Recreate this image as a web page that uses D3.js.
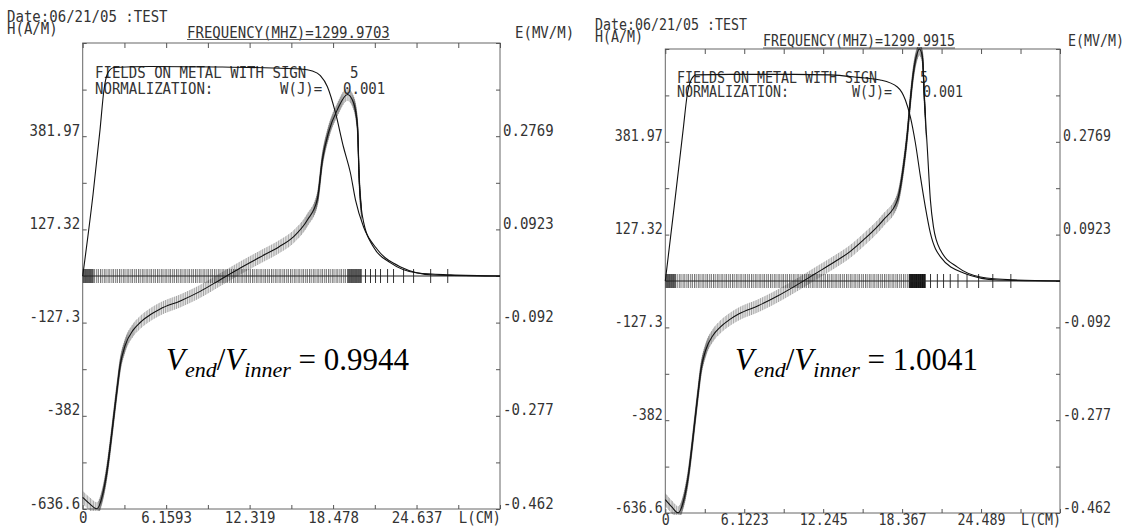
<!DOCTYPE html>
<html>
<head>
<meta charset="utf-8">
<script src="https://cdn.jsdelivr.net/npm/d3@7"></script>
<style>
  body { margin: 0; background: #fff; }
  svg { display: block; }
</style>
</head>
<body>
<svg id="chart" width="1131" height="529"></svg>
<script>
// ---- data ----
var hMax = 636.6;        // A/m, left axis extent
var eMax = 0.4615;       // MV/m, right axis extent
var hStep = 127.32;
var eStep = 0.0923;

var hLabels = ["381.97", "127.32", "-127.3", "-382", "-636.6"];
var eLabels = ["0.2769", "0.0923", "-0.092", "-0.277", "-0.462"];

var xLabels1 = ["0", "6.1593", "12.319", "18.478", "24.637"];
var xLabels2 = ["0", "6.1223", "12.245", "18.367", "24.489"];

// left plot: H with sign (A/m) and E (MV/m) along the metal, L in cm
var hX1 = [0, 0.5, 1.05, 1.45, 1.8, 2.05, 2.3, 2.55, 2.76, 3.13, 3.72, 4.24, 4.98, 5.72, 7.2, 8.67, 10.15, 11.63, 13.11, 14.5, 15.55, 16.58, 17.32, 17.69, 18.14, 18.8, 19.54, 19.98, 20.28, 20.4, 20.65, 21.46, 22.72, 24.72, 27.16, 30.8];
var hY1 = [-605, -622, -636, -600, -531, -460, -382, -305, -245, -190, -148, -127, -106, -90, -68, -42, -10, 22, 52, 80, 107, 153, 210, 318, 392, 455, 496, 474, 408, 271, 162, 79, 36, 8, 3, 0];
var eX1 = [0, 0.76, 1.28, 1.57, 1.87, 2.31, 5, 10, 14, 16.07, 16.95, 17.54, 18.06, 18.65, 19.24, 19.76, 20.13, 20.73, 21.76, 23.46, 25.9, 30.8];
var eY1 = [0, 0.161, 0.29, 0.369, 0.403, 0.413, 0.415, 0.414, 0.412, 0.41, 0.406, 0.397, 0.375, 0.324, 0.256, 0.204, 0.151, 0.097, 0.052, 0.018, 0.002, 0];
var meshSparse1 = [20.87, 21.24, 21.61, 21.98, 22.5, 22.94, 23.68, 24.42, 25.68, 26.94];

// right plot
var hX2 = [0, 0.5, 1.0, 1.4, 1.8, 2.05, 2.3, 2.55, 2.76, 3.13, 3.72, 4.24, 4.98, 5.72, 7.2, 8.67, 10.15, 11.63, 13.11, 14.3, 15.35, 16.9, 18.0, 18.47, 18.78, 19.01, 19.24, 19.55, 19.7, 19.94, 20.1, 20.33, 20.56, 20.8, 21.34, 22.66, 24.45, 27, 30.61];
var hY2 = [-600, -620, -636, -605, -531, -460, -382, -305, -245, -190, -148, -127, -106, -90, -68, -42, -12, 20, 52, 80, 112, 167, 222, 313, 406, 497, 571, 626, 636.6, 615, 497, 359, 222, 148, 85, 38, 11, 3, 0];
var eX2 = [0, 0.7, 1.38, 1.7, 2.0, 2.4, 5, 10, 12.78, 15, 16.67, 18.0, 18.62, 19.01, 19.4, 19.79, 20.17, 20.56, 21.34, 23.13, 25.77, 30.61];
var eY2 = [0, 0.15, 0.30, 0.37, 0.40, 0.41, 0.411, 0.411, 0.41, 0.405, 0.4, 0.386, 0.36, 0.326, 0.274, 0.207, 0.147, 0.095, 0.048, 0.016, 0.002, 0];
var meshSparse2 = [20.57, 21.1, 21.58, 22.1, 22.7, 23.4, 24.3, 25.4, 26.8];

var freqs = ["1299.9703", "1299.9915"];
var ratios = ["0.9944", "1.0041"];

var MONO = "'DejaVu Sans Mono', 'Liberation Mono', monospace";
var svg = d3.select("#chart");

var panels = [
  { left: 82.7, right: 500, top: 43, bottom: 509, xMax: 30.797, xLabels: xLabels1,
    hx: hX1, hy: hY1, ex: eX1, ey: eY1, sparse: meshSparse1, freq: freqs[0], ratio: ratios[0],
    dense: 20.6, dark: [[0, 0.8, "#444"], [19.55, 20.6, "#444"]],
    fs: 16, cw: 8.45, xlab: 13.5,
    pos: { date: [7, 21.5], ham: [7, 33.5], freq: [187, 37.5], emv: [515, 37.5], fields: [95, 78],
           five: [350, 78], norm: [95, 94], wj: [280, 94], w: [343, 94], ratio: [166, 370] } },
  { left: 665.3, right: 1060, top: 49, bottom: 513, xMax: 30.6115, xLabels: xLabels2,
    hx: hX2, hy: hY2, ex: eX2, ey: eY2, sparse: meshSparse2, freq: freqs[1], ratio: ratios[1],
    dense: 20.2, dark: [[0, 0.8, "#444"], [18.9, 20.2, "#000"]],
    fs: 15.3, cw: 8.0, xlab: 12,
    pos: { date: [595, 29.5], ham: [595, 42], freq: [763, 46], emv: [1068, 46], fields: [677, 83],
           five: [920, 83], norm: [677, 97], wj: [852, 97], w: [923, 97], ratio: [735, 370] } }
];

function label(g, p, xy, s, anchor) {
  var t = g.append("text")
    .attr("x", xy[0]).attr("y", xy[1])
    .attr("font-family", MONO).attr("font-size", p.fs).attr("fill", "#333")
    .attr("textLength", s.length * p.cw).attr("lengthAdjust", "spacingAndGlyphs")
    .text(s);
  if (anchor) t.attr("text-anchor", anchor);
  return t;
}

function squeeze(sel, p) {
  sel.selectAll("text").each(function() {
    var s = this.textContent;
    if (s) d3.select(this).attr("textLength", s.length * p.cw).attr("lengthAdjust", "spacingAndGlyphs");
  });
}

function drawPanel(p, idx) {
  var g = svg.append("g");

  var x = d3.scaleLinear().domain([0, p.xMax]).range([p.left, p.right]);
  var yH = d3.scaleLinear().domain([-hMax, hMax]).range([p.bottom, p.top]);
  var yE = d3.scaleLinear().domain([-eMax, eMax]).range([p.bottom, p.top]);

  var xTicks = d3.range(0, 11).map(function(k) { return k * p.xMax / 10; });
  var hTicks = d3.range(-5, 6).map(function(k) { return k * hStep; });
  var eTicks = d3.range(-5, 6).map(function(k) { return k * eStep; });

  function oddLabel(arr, step) {
    return function(d) {
      var k = Math.round(d / step);
      if (k % 2 === 0) return "";
      return arr[(3 - k) / 2] || "";
    };
  }

  // frame
  g.append("rect")
    .attr("x", p.left).attr("y", p.top)
    .attr("width", p.right - p.left).attr("height", p.bottom - p.top)
    .attr("fill", "none").attr("stroke", "#666").attr("stroke-width", 1);

  // axes
  var ax = g.append("g").attr("transform", "translate(0," + p.bottom + ")")
    .call(d3.axisBottom(x).tickValues(xTicks).tickSizeInner(-4).tickSizeOuter(0)
      .tickFormat(function(d, i) { return (i % 2 === 0 && p.xLabels[i / 2]) ? p.xLabels[i / 2] : ""; }));
  ax.select(".domain").remove();
  ax.attr("font-family", MONO).attr("font-size", p.fs).attr("color", "#555");
  ax.selectAll("text").attr("dy", null).attr("y", p.xlab).attr("fill", "#333");
  squeeze(ax, p);

  var axT = g.append("g").attr("transform", "translate(0," + p.top + ")")
    .call(d3.axisTop(x).tickValues(xTicks).tickSizeInner(-5).tickSizeOuter(0).tickFormat(""));
  axT.select(".domain").remove();
  axT.attr("color", "#555");

  var ayL = g.append("g").attr("transform", "translate(" + p.left + ",0)")
    .call(d3.axisLeft(yH).tickValues(hTicks).tickSizeInner(-4).tickSizeOuter(0).tickPadding(2.5)
      .tickFormat(oddLabel(hLabels, hStep)));
  ayL.select(".domain").remove();
  ayL.attr("font-family", MONO).attr("font-size", p.fs).attr("color", "#555");
  ayL.selectAll("text").attr("dy", -1).attr("fill", "#333");
  squeeze(ayL, p);

  var ayR = g.append("g").attr("transform", "translate(" + p.right + ",0)")
    .call(d3.axisRight(yE).tickValues(eTicks).tickSizeInner(-4).tickSizeOuter(0).tickPadding(3)
      .tickFormat(oddLabel(eLabels, eStep)));
  ayR.select(".domain").remove();
  ayR.attr("font-family", MONO).attr("font-size", p.fs).attr("color", "#555");
  ayR.selectAll("text").attr("dy", -1).attr("fill", "#333");
  squeeze(ayR, p);

  label(g, p, [p.right + 1, p.bottom + p.xlab], "L(CM)", "end");

  // header texts
  label(g, p, p.pos.date, "Date:06/21/05 :TEST");
  label(g, p, p.pos.ham, "H(A/M)");
  var fs = "FREQUENCY(MHZ)=" + p.freq;
  label(g, p, p.pos.freq, fs);
  g.append("line")
    .attr("x1", p.pos.freq[0]).attr("x2", p.pos.freq[0] + fs.length * p.cw)
    .attr("y1", p.pos.freq[1] + 2).attr("y2", p.pos.freq[1] + 2)
    .attr("stroke", "#555").attr("stroke-width", 1);
  label(g, p, p.pos.emv, "E(MV/M)");
  label(g, p, p.pos.fields, "FIELDS ON METAL WITH SIGN");
  label(g, p, p.pos.five, "5");
  label(g, p, p.pos.norm, "NORMALIZATION:");
  label(g, p, p.pos.wj, "W(J)=");
  label(g, p, p.pos.w, "0.001");

  // mesh markers along the zero line
  var y0 = yE(0);
  g.append("line")
    .attr("x1", x(0)).attr("x2", x(p.dense)).attr("y1", y0).attr("y2", y0)
    .attr("stroke", "#777").attr("stroke-width", 14).attr("stroke-dasharray", "1 1.1 1 0.7");
  p.dark.forEach(function(z) {
    g.append("line")
      .attr("x1", x(z[0])).attr("x2", x(z[1])).attr("y1", y0).attr("y2", y0)
      .attr("stroke", z[2]).attr("stroke-width", 14).attr("stroke-opacity", 0.85);
  });
  g.selectAll(".mesh" + idx).data(p.sparse).enter().append("line")
    .attr("x1", function(d) { return x(d); }).attr("x2", function(d) { return x(d); })
    .attr("y1", y0 - 7).attr("y2", y0 + 7)
    .attr("stroke", "#333").attr("stroke-width", 1);
  g.append("line")
    .attr("x1", x(0)).attr("x2", x(p.xMax)).attr("y1", y0).attr("y2", y0)
    .attr("stroke", "#222").attr("stroke-width", 1);

  // curves
  var hPts = p.hx.map(function(v, i) { return [v, p.hy[i]]; });
  var ePts = p.ex.map(function(v, i) { return [v, p.ey[i]]; });
  var lineH = d3.line().x(function(d) { return x(d[0]); }).y(function(d) { return yH(d[1]); }).curve(d3.curveMonotoneX);
  var lineE = d3.line().x(function(d) { return x(d[0]); }).y(function(d) { return yE(d[1]); }).curve(d3.curveMonotoneX);

  // hatch of the H markers: the H path smeared vertically
  var clipId = "clipH" + idx;
  g.append("clipPath").attr("id", clipId).append("rect")
    .attr("x", p.left).attr("y", p.top - 2).attr("width", x(p.dense) - p.left).attr("height", p.bottom - p.top + 4);
  var smear = g.append("g").attr("clip-path", "url(#" + clipId + ")");
  d3.range(-6, 7).forEach(function(dy) {
    smear.append("path").datum(hPts)
      .attr("d", lineH).attr("transform", "translate(0," + dy + ")")
      .attr("fill", "none").attr("stroke", "#222").attr("stroke-width", 1)
      .attr("stroke-opacity", 0.42).attr("stroke-dasharray", "1.2 0.8");
  });

  g.append("path").datum(hPts).attr("d", lineH)
    .attr("fill", "none").attr("stroke", "#111").attr("stroke-width", 1.1);
  g.append("path").datum(ePts).attr("d", lineE)
    .attr("fill", "none").attr("stroke", "#111").attr("stroke-width", 1.1);

  // V_end / V_inner annotation
  var t = g.append("text")
    .attr("x", p.pos.ratio[0]).attr("y", p.pos.ratio[1])
    .attr("font-family", "'Liberation Serif', 'Times New Roman', serif")
    .attr("font-size", 31).attr("fill", "#000");
  t.append("tspan").attr("font-style", "italic").text("V");
  t.append("tspan").attr("font-style", "italic").attr("font-size", 22).attr("dy", 7).text("end");
  t.append("tspan").attr("dy", -7).text("/");
  t.append("tspan").attr("font-style", "italic").text("V");
  t.append("tspan").attr("font-style", "italic").attr("font-size", 22).attr("dy", 7).text("inner");
  t.append("tspan").attr("dy", -7).text(" = " + p.ratio);
}

panels.forEach(drawPanel);
</script>
</body>
</html>
